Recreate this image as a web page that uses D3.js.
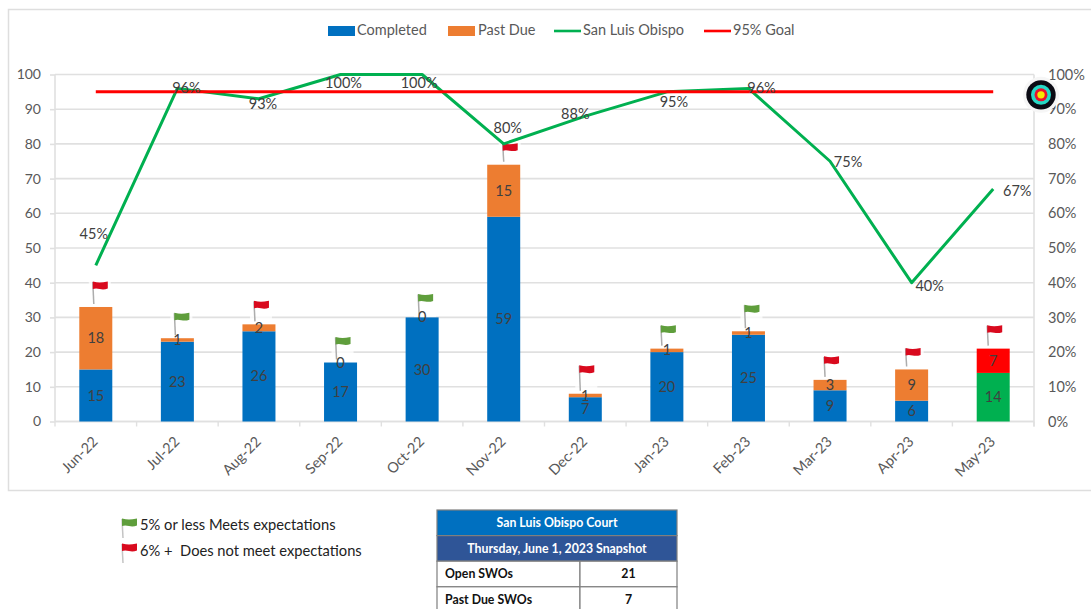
<!DOCTYPE html>
<html><head><meta charset="utf-8">
<style>html,body{margin:0;padding:0;background:#fff;overflow:hidden}svg{display:block}text{font-family:Lato,"Open Sans",sans-serif;white-space:pre}</style>
<script src="https://cdn.jsdelivr.net/npm/d3@7"></script></head><body><div id="c"></div>
<script>
const months=["Jun-22","Jul-22","Aug-22","Sep-22","Oct-22","Nov-22","Dec-22","Jan-23","Feb-23","Mar-23","Apr-23","May-23"];
const completed=[15,23,26,17,30,59,7,20,25,9,6,14];
const pastDue=[18,1,2,0,0,15,1,1,1,3,9,7];
const sanLuisObispo=[45,96,93,100,100,80,88,95,96,75,40,67];
const goal=[95,95,95,95,95,95,95,95,95,95,95,95];
const flagStatus=["red","green","red","green","green","red","red","green","green","red","red","red"];
const yTicks=[0,10,20,30,40,50,60,70,80,90,100];
const pctTicks=[0,10,20,30,40,50,60,70,80,90,100];
const tableHead=["San Luis Obispo Court","Thursday, June 1, 2023 Snapshot"];
const tableRows=[["Open SWOs","21"],["Past Due SWOs","7"]];
const legendItems=["Completed","Past Due","San Luis Obispo","95% Goal"];
const flagNotes=["5% or less Meets expectations","6% +  Does not meet expectations"];

const W=1091,H=609,L=55,R=1034,T=74.5,B=421.5;
const BLUE="#0070c0",ORANGE="#ed7d31",GREEN="#00b050",RED="#ff0000",GRID="#e0e0e0",TXT="#595959",LBL="#404040";
const svg=d3.select("#c").append("svg").attr("width",W).attr("height",H);
svg.append("rect").attr("x",8.5).attr("y",9.5).attr("width",1090).attr("height",481).attr("fill","#fff").attr("stroke","#dedede").attr("stroke-width",1.5);

const x=d3.scaleBand().domain(months).range([L,R]);
const y=d3.scaleLinear().domain([0,100]).range([B,T]);
const yp=d3.scaleLinear().domain([0,100]).range([B,T]);
const cx=m=>x(m)+x.bandwidth()/2;
const bw=33;

// grid
svg.append("g").selectAll("line").data(yTicks).join("line")
  .attr("x1",L).attr("x2",R).attr("y1",d=>y(d)).attr("y2",d=>y(d)).attr("stroke",GRID).attr("stroke-width",1.6);

// left axis
const gl=svg.append("g").attr("transform",`translate(${L},0)`).call(d3.axisLeft(y).tickValues(yTicks).tickSize(5).tickPadding(9));
gl.selectAll("text").attr("font-size",14).attr("fill",TXT);
gl.selectAll("line,path").attr("stroke",GRID).attr("stroke-width",1.6);
gl.select("path").attr("d",`M0,${T}V${B}`);
// right axis
const gr=svg.append("g").attr("transform",`translate(${R},0)`).call(d3.axisRight(yp).tickValues(pctTicks).tickFormat(d=>d+"%").tickSize(0).tickPadding(14));
gr.selectAll("text").attr("font-size",14.5).attr("fill",TXT);
gr.select("path").attr("d",`M0,${T}V${B+5}`).attr("stroke",GRID).attr("stroke-width",1.6);
// x axis
const gx=svg.append("g").attr("transform",`translate(0,${B})`).call(d3.axisBottom(x).tickSize(0).tickPadding(0));
gx.select("path").attr("d",`M${L},0H${R}`).attr("stroke",GRID).attr("stroke-width",1.6);
gx.selectAll("g.tick text").attr("font-size",14.5).attr("fill",TXT).attr("text-anchor","end")
  .attr("dy",0).attr("transform","translate(3,21) rotate(-45)");
svg.append("g").selectAll("line").data(months.concat(["_"])).join("line")
  .attr("x1",(d,i)=>L+i*x.bandwidth()).attr("x2",(d,i)=>L+i*x.bandwidth())
  .attr("y1",B).attr("y2",B+5).attr("stroke",GRID).attr("stroke-width",1.4);

// flags (halo sits only above the bar top)
function flag(g,c,lift){
  g.append("rect").attr("x",-3).attr("y",-3).attr("width",22).attr("height",lift+3).attr("fill","#fff").attr("opacity",.75);
  g.append("path").attr("d",`M1,1L2,${lift-3}`).attr("stroke","#adadad").attr("stroke-width",1.5).attr("fill","none");
  g.append("path").attr("d","M1,0.5Q5,1.5 8,1.5T16,0.5L16,7.5Q12,9 8,8T1,8Z").attr("fill",c);
}
const flagCol={red:"#d90a1e",green:"#5f9e3c"};
const flagDx=[-4,-4,-6,-6,-5,-2,-7,-7,-5,-7,-7,-7];
const flagLift=[26,26,24,26,24,22,29,24,27,24,22,24];
const barRows=months.map((m,i)=>({m,i,c:completed[i],p:pastDue[i]}));
barRows.forEach(d=>{
  const g=svg.append("g").attr("transform",`translate(${cx(d.m)+flagDx[d.i]},${y(d.c+d.p)-flagLift[d.i]})`);
  flag(g,flagCol[flagStatus[d.i]],flagLift[d.i]);
});

// bars
const isLast=d=>d.i===months.length-1;
svg.append("g").selectAll("rect").data(barRows).join("rect")
  .attr("x",d=>cx(d.m)-bw/2).attr("width",bw).attr("y",d=>y(d.c)).attr("height",d=>y(0)-y(d.c))
  .attr("fill",d=>isLast(d)?GREEN:BLUE);
svg.append("g").selectAll("rect").data(barRows.filter(d=>d.p>0)).join("rect")
  .attr("x",d=>cx(d.m)-bw/2).attr("width",bw).attr("y",d=>y(d.c+d.p)).attr("height",d=>y(d.c)-y(d.c+d.p))
  .attr("fill",d=>isLast(d)?RED:ORANGE);

// lines
const lineGen=d3.line().x((d,i)=>cx(months[i])).y(d=>y(d));
svg.append("path").datum(sanLuisObispo).attr("d",lineGen).attr("fill","none").attr("stroke",GREEN).attr("stroke-width",3).attr("stroke-linejoin","round");
svg.append("path").datum(goal).attr("d",lineGen).attr("fill","none").attr("stroke",RED).attr("stroke-width",3);

// bar labels
const barLabel=(sel,val,pos)=>sel.append("text").attr("x",d=>cx(d.m)).attr("y",pos).attr("dy","0.35em")
  .attr("text-anchor","middle").attr("font-size",14.5).attr("fill",LBL).text(val);
barLabel(svg.append("g").selectAll("g").data(barRows).join("g"),d=>d.c,d=>y(d.c/2));
barLabel(svg.append("g").selectAll("g").data(barRows).join("g"),d=>d.p,d=>y(d.c+d.p/2));

// percentage labels
const pctDx=[-2,9,4,3,-3,4,-10,7,13,18,18,24];
const pctDy=[-31,0,5.5,8.5,8.5,-16,-2,10,0,1,3,2];
svg.append("g").selectAll("text").data(sanLuisObispo).join("text")
  .attr("x",(d,i)=>cx(months[i])+pctDx[i]).attr("y",(d,i)=>y(d)+pctDy[i]).attr("dy","0.35em")
  .attr("text-anchor","middle").attr("font-size",14.5).attr("fill",LBL).text(d=>d+"%");

// target icon
const tg=svg.append("g").attr("transform",`translate(1041,${y(95)+3})`);
[[18,"#f6f6f6"],[14.7,"#0b0b14"],[10,"#26d9c7"],[6.5,"#e8112d"],[3.7,"#f6e800"]].forEach(([r,c])=>tg.append("circle").attr("r",r).attr("fill",c));

// legend
const lg=svg.append("g");
const legX=[328,448,554,704];
const legTextX=[357,478,583,733];
lg.selectAll("text").data(legendItems).join("text").attr("x",(d,i)=>legTextX[i]).attr("y",30).attr("dy","0.35em")
  .attr("font-size",14.5).attr("fill",TXT).text(d=>d);
lg.append("rect").attr("x",legX[0]).attr("y",26).attr("width",27).attr("height",10).attr("fill",BLUE);
lg.append("rect").attr("x",legX[1]).attr("y",26).attr("width",27).attr("height",10).attr("fill",ORANGE);
lg.append("line").attr("x1",legX[2]).attr("x2",legX[2]+27).attr("y1",31).attr("y2",31).attr("stroke",GREEN).attr("stroke-width",2.6);
lg.append("line").attr("x1",legX[3]).attr("x2",legX[3]+27).attr("y1",31).attr("y2",31).attr("stroke",RED).attr("stroke-width",2.6);

// flag notes
svg.append("g").selectAll("text").data(flagNotes).join("text").attr("x",140).attr("y",(d,i)=>525+i*26).attr("dy","0.35em")
  .attr("font-size",14.7).attr("fill","#222").text(d=>d);
["green","red"].forEach((k,i)=>{
  const g=svg.append("g").attr("transform",`translate(121,${518+i*25})`);
  g.append("path").attr("d","M1,1L2,20").attr("stroke","#c4c4c4").attr("stroke-width",1.5);
  g.append("path").attr("d","M1,0.5Q5,1.5 8,1.5T16,0.5L16,7.5Q12,9 8,8T1,8Z").attr("fill",flagCol[k]);
});

// table
const tL=437,tR=677,tM=580,rowH=25.6,tT=510;
const tbl=svg.append("g");
const heads=[BLUE,"#2f5597"];
tableHead.forEach((t,i)=>{
  tbl.append("rect").attr("x",tL).attr("y",tT+i*rowH).attr("width",tR-tL).attr("height",rowH).attr("fill",heads[i]).attr("stroke","#7f7f7f").attr("stroke-width",1.2);
  tbl.append("text").attr("x",(tL+tR)/2).attr("y",tT+(i+.5)*rowH).attr("dy","0.35em").attr("text-anchor","middle")
    .attr("font-size",12.3).attr("font-weight",700).attr("fill","#fff").text(t);
});
tableRows.forEach((r,i)=>{
  const ry=tT+(i+2)*rowH;
  tbl.append("rect").attr("x",tL).attr("y",ry).attr("width",tM-tL).attr("height",rowH).attr("fill","#fff").attr("stroke","#7f7f7f").attr("stroke-width",1.2);
  tbl.append("rect").attr("x",tM).attr("y",ry).attr("width",tR-tM).attr("height",rowH).attr("fill","#fff").attr("stroke","#7f7f7f").attr("stroke-width",1.2);
  tbl.append("text").attr("x",tL+8).attr("y",ry+rowH/2).attr("dy","0.35em").attr("font-size",12.3).attr("font-weight",700).attr("fill","#111").text(r[0]);
  tbl.append("text").attr("x",(tM+tR)/2).attr("y",ry+rowH/2).attr("dy","0.35em").attr("text-anchor","middle").attr("font-size",12.3).attr("font-weight",700).attr("fill","#111").text(r[1]);
});
</script></body></html>
